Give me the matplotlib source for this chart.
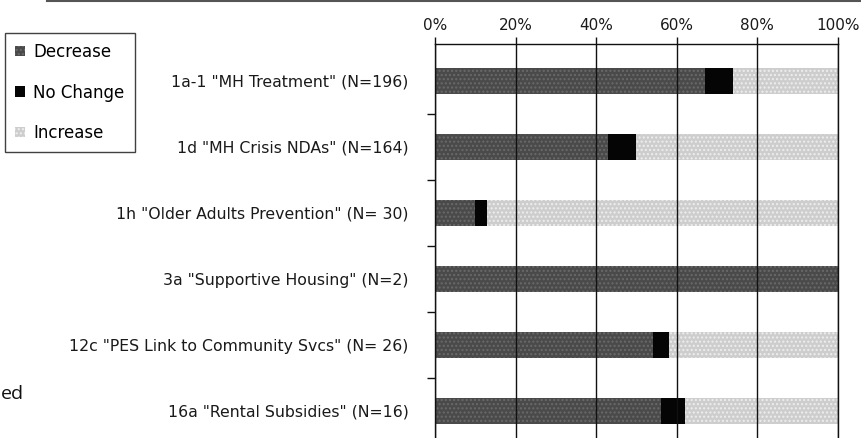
import numpy as np
import matplotlib
matplotlib.use("Agg")
import matplotlib.pyplot as plt
from matplotlib.patches import Patch
from matplotlib.lines import Line2D

programs = ['1a-1 "MH Treatment" (N=196)',
            '1d "MH Crisis NDAs" (N=164)',
            '1h "Older Adults Prevention" (N= 30)',
            '3a "Supportive Housing" (N=2)',
            '12c "PES Link to Community Svcs" (N= 26)',
            '16a "Rental Subsidies" (N=16)']
decrease = [67, 43, 10, 100, 54, 56]
no_change = [7, 7, 3, 0, 4, 6]
increase = [26, 50, 87, 0, 42, 38]
pct_ticks = [0, 20, 40, 60, 80, 100]

c_dec = '#4a4a4a'
c_nc = '#050505'
c_inc = '#cdcdcd'


def main():
    plt.rcParams['font.family'] = ['DejaVu Sans']
    fig = plt.figure(figsize=(8.62, 4.38), dpi=100)
    ax = fig.add_axes([435 / 862, 0.0, 403 / 862, 1 - 44 / 438])

    y = np.arange(len(programs))
    dec = np.array(decrease)
    nc = np.array(no_change)
    inc = np.array(increase)
    h = 0.39
    ax.barh(y, dec, height=h, color=c_dec, hatch='....', edgecolor='#6a6a6a', linewidth=0)
    ax.barh(y, nc, left=dec, height=h, color=c_nc, linewidth=0)
    ax.barh(y, inc, left=dec + nc, height=h, color=c_inc, hatch='....', edgecolor='#eeeeee', linewidth=0)

    ax.set_xlim(0, 100)
    ax.set_ylim(5.41, -0.56)

    ax.xaxis.tick_top()
    ax.set_xticks(pct_ticks)
    ax.set_xticklabels(['%d%%' % t for t in pct_ticks], fontsize=11, color='#1a1a1a')
    ax.tick_params(axis='x', direction='out', length=5, width=1, pad=3, colors='#111111')
    for lbl in ax.get_xticklabels():
        lbl.set_color('#1a1a1a')
    ax.grid(axis='x', color='#111111', linewidth=1.0)
    ax.set_axisbelow(False)

    ax.set_yticks(y)
    ax.set_yticklabels(programs, fontsize=11.3, color='#1a1a1a')
    ax.tick_params(axis='y', which='major', length=0, pad=19)
    ax.set_yticks(np.arange(0.5, len(programs) - 0.5, 1), minor=True)
    ax.tick_params(axis='y', which='minor', direction='out', length=6, width=1, colors='#111111')

    ax.spines['bottom'].set_visible(False)
    for s in ['top', 'left', 'right']:
        ax.spines[s].set_color('#111111')
        ax.spines[s].set_linewidth(1.0)

    handles = [Patch(facecolor=c_dec, hatch='....', edgecolor='#6a6a6a', linewidth=0),
               Patch(facecolor=c_nc, linewidth=0),
               Patch(facecolor=c_inc, hatch='....', edgecolor='#eeeeee', linewidth=0)]
    leg = fig.legend(handles, ['Decrease', 'No Change', 'Increase'],
                     loc='upper left', bbox_to_anchor=(5 / 862, 1 - 33 / 438),
                     fontsize=12, frameon=True, fancybox=False, edgecolor='#111111',
                     handlelength=0.6, handleheight=0.6, handletextpad=0.5,
                     labelspacing=1.35, borderpad=0.6, borderaxespad=0)
    leg.get_frame().set_linewidth(1.0)

    # page rule above the chart and stray text from the page body
    fig.add_artist(Line2D([47 / 862, 1.0], [1 - 1 / 438, 1 - 1 / 438],
                          color='#555555', linewidth=1.5))
    fig.text(1 / 862, 1 - 394 / 438, 'ed', fontsize=14, va='center', ha='left',
             family='Open Sans', color='#111111')

    fig.savefig('out.png', dpi=100)


if __name__ == '__main__':
    main()
